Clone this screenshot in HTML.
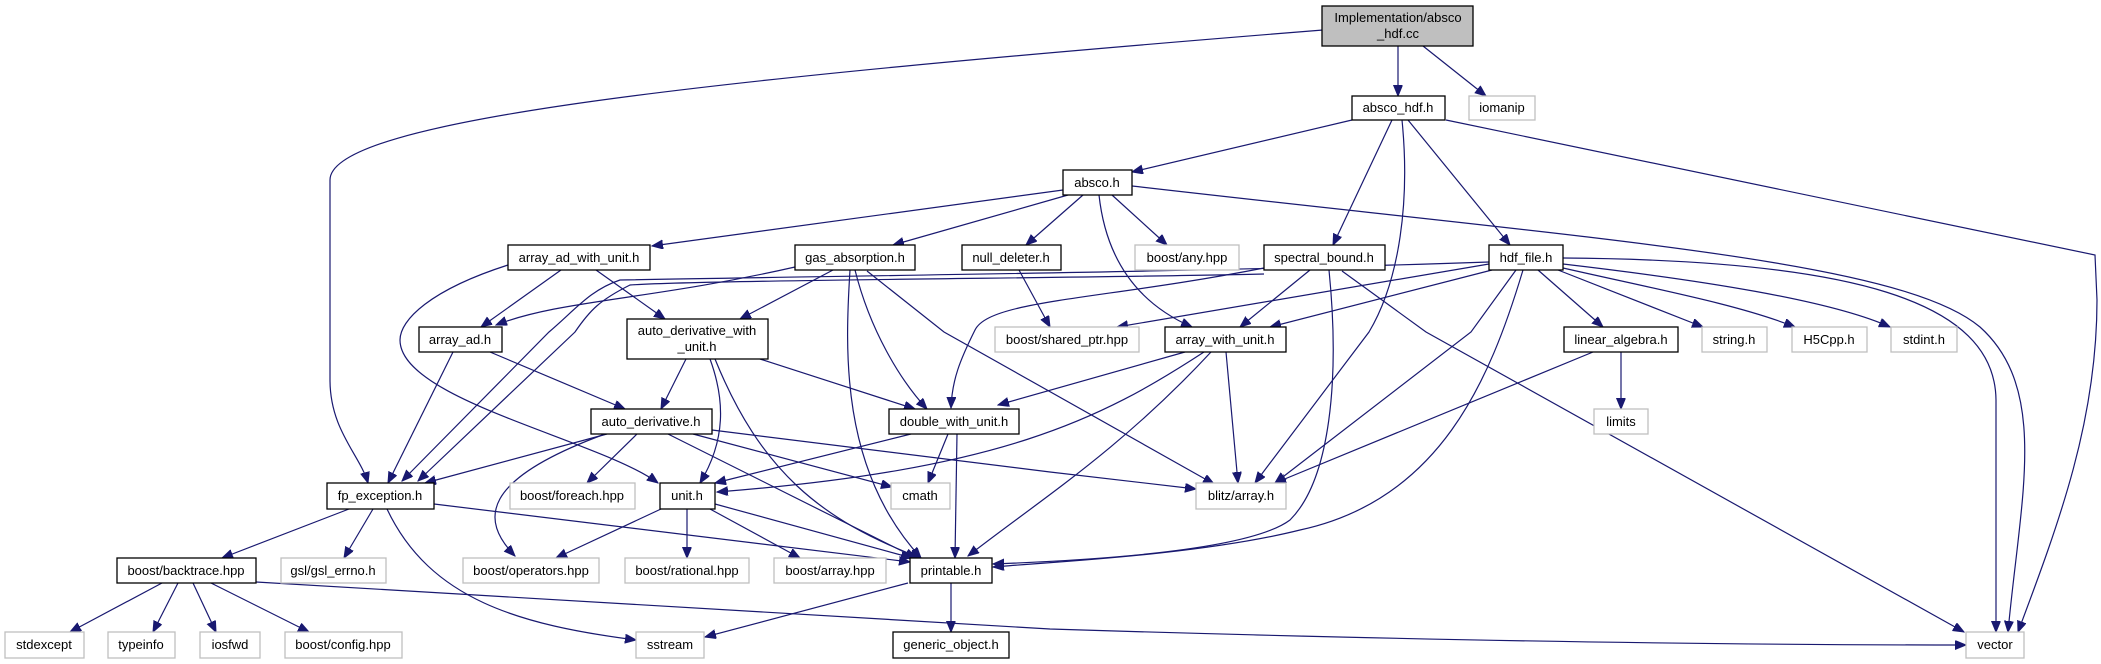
<!DOCTYPE html>
<html><head><meta charset="utf-8"><style>
html,body{margin:0;padding:0;background:#fff;}
svg{display:block;}
text{font-family:"Liberation Sans",Helvetica,sans-serif;font-size:13px;fill:#000;text-anchor:middle;}
.e{fill:none;stroke:#191970;stroke-width:1.2;}
.b{fill:#fff;stroke:#000;stroke-width:1.3;}
.g{fill:#fff;stroke:#bfbfbf;stroke-width:1.3;}
</style></head><body>
<svg width="2101" height="664" viewBox="0 0 2101 664" xmlns="http://www.w3.org/2000/svg">
<defs>
<marker id="a" markerUnits="userSpaceOnUse" markerWidth="12" markerHeight="10" refX="11" refY="4.5" orient="auto">
<path d="M0,0 L11,4.5 L0,9 Z" fill="#191970" stroke="#191970"/>
</marker>
</defs>
<g marker-end="url(#a)">
<path class="e" d="M1398,46 L1398,96"/>
<path class="e" d="M1423,46 L1486,96"/>
<path class="e" d="M1323,30 C700,80 330,120 330,180 L330,380 C330,430 360,455 368,483"/>
<path class="e" d="M1352,120 L1132,172"/>
<path class="e" d="M1392,120 L1333,245"/>
<path class="e" d="M1402,120 C1410,200 1400,280 1369,332 L1255,483"/>
<path class="e" d="M1446,120 L2095,255 L2097,300 C2097,420 2060,520 2018,632"/>
<path class="e" d="M1408,120 L1510,245"/>
<path class="e" d="M1063,190 L652,246"/>
<path class="e" d="M1068,195 L893,245"/>
<path class="e" d="M1083,195 L1026,245"/>
<path class="e" d="M1112,195 L1167,245"/>
<path class="e" d="M1099,195 C1105,250 1130,300 1192,327"/>
<path class="e" d="M1132,186 C1600,240 1900,260 1980,327 C2050,390 2020,500 2008,632"/>
<path class="e" d="M1563,258 C1850,260 1995,300 1996,400 L1996,632"/>
<path class="e" d="M1563,264 C1700,280 1830,300 1890,327"/>
<path class="e" d="M1563,268 C1660,290 1740,305 1795,327"/>
<path class="e" d="M1558,270 L1703,327"/>
<path class="e" d="M1538,270 L1603,327"/>
<path class="e" d="M1489,264 L1117,327"/>
<path class="e" d="M1492,270 L1270,327"/>
<path class="e" d="M1516,270 L1471,332 L1275,483"/>
<path class="e" d="M1523,270 C1490,380 1440,500 1300,530 C1200,555 1050,562 993,567"/>
<path class="e" d="M1489,262 C1200,272 900,275 620,280 C590,290 575,310 549,332 L402,481"/>
<path class="e" d="M1329,270 C1340,380 1330,480 1290,520 C1250,550 1100,560 993,564"/>
<path class="e" d="M1310,270 L1240,327"/>
<path class="e" d="M1264,268 C1100,300 990,300 975,330 C960,360 952,380 951,408"/>
<path class="e" d="M1264,274 C1100,278 700,280 630,285 C600,300 590,310 575,332 L418,481"/>
<path class="e" d="M1342,271 L1426,332 L1964,632"/>
<path class="e" d="M561,270 L481,327"/>
<path class="e" d="M596,270 L665,319"/>
<path class="e" d="M508,265 C430,290 400,320 400,340 C400,400 600,440 658,483"/>
<path class="e" d="M795,267 C650,300 560,300 496,325"/>
<path class="e" d="M833,270 L740,319"/>
<path class="e" d="M855,270 C870,330 900,380 927,409"/>
<path class="e" d="M850,270 C845,350 840,470 921,558"/>
<path class="e" d="M867,271 L944,332 L1214,484"/>
<path class="e" d="M1019,270 L1050,327"/>
<path class="e" d="M686,359 L661,409"/>
<path class="e" d="M710,359 C725,400 726,440 700,483"/>
<path class="e" d="M715,359 C760,470 820,520 921,558"/>
<path class="e" d="M760,359 L915,409"/>
<path class="e" d="M453,352 L388,483"/>
<path class="e" d="M490,352 L625,409"/>
<path class="e" d="M607,434 L425,483"/>
<path class="e" d="M605,434 C480,480 480,520 515,556"/>
<path class="e" d="M637,434 L587,483"/>
<path class="e" d="M668,434 L916,558"/>
<path class="e" d="M693,434 L892,487"/>
<path class="e" d="M712,430 L1050,472 L1196,489"/>
<path class="e" d="M911,434 L715,483"/>
<path class="e" d="M948,434 L928,483"/>
<path class="e" d="M957,434 L955,558"/>
<path class="e" d="M1185,352 L998,405"/>
<path class="e" d="M1204,352 C1100,420 1000,470 717,492"/>
<path class="e" d="M1211,352 C1120,450 1040,500 968,556"/>
<path class="e" d="M1226,352 L1238,483"/>
<path class="e" d="M349,509 L222,558"/>
<path class="e" d="M373,509 L344,558"/>
<path class="e" d="M387,509 C430,600 520,625 636,640"/>
<path class="e" d="M434,504 L910,562"/>
<path class="e" d="M661,509 L556,558"/>
<path class="e" d="M687,509 L687,558"/>
<path class="e" d="M710,509 L800,558"/>
<path class="e" d="M715,504 L912,558"/>
<path class="e" d="M162,583 L70,632"/>
<path class="e" d="M178,583 L153,632"/>
<path class="e" d="M193,583 L216,632"/>
<path class="e" d="M211,583 L309,632"/>
<path class="e" d="M256,582 L1050,629 C1400,640 1700,645 1966,645"/>
<path class="e" d="M908,583 L705,637"/>
<path class="e" d="M951,583 L951,632"/>
<path class="e" d="M1621,352 L1621,409"/>
<path class="e" d="M1593,352 L1275,483"/>
</g>
<rect x="1322" y="6" width="151" height="40" fill="#bfbfbf" stroke="#000" stroke-width="1.3"/>
<text x="1398" y="22">Implementation/absco</text><text x="1398" y="38">_hdf.cc</text>
<rect class="b" x="1352" y="96" width="93" height="24"/><text x="1398" y="112">absco_hdf.h</text>
<rect class="g" x="1469" y="96" width="66" height="24"/><text x="1502" y="112">iomanip</text>
<rect class="b" x="1063" y="170" width="69" height="25"/><text x="1097" y="187">absco.h</text>
<rect class="b" x="508" y="245" width="142" height="25"/><text x="579" y="262">array_ad_with_unit.h</text>
<rect class="b" x="795" y="245" width="120" height="25"/><text x="855" y="262">gas_absorption.h</text>
<rect class="b" x="962" y="245" width="99" height="25"/><text x="1011" y="262">null_deleter.h</text>
<rect class="g" x="1135" y="245" width="104" height="25"/><text x="1187" y="262">boost/any.hpp</text>
<rect class="b" x="1264" y="245" width="121" height="25"/><text x="1324" y="262">spectral_bound.h</text>
<rect class="b" x="1489" y="245" width="74" height="25"/><text x="1526" y="262">hdf_file.h</text>
<rect class="b" x="419" y="327" width="83" height="25"/><text x="460" y="344">array_ad.h</text>
<rect class="b" x="627" y="319" width="141" height="40"/><text x="697" y="335">auto_derivative_with</text><text x="697" y="351">_unit.h</text>
<rect class="g" x="995" y="327" width="144" height="25"/><text x="1067" y="344">boost/shared_ptr.hpp</text>
<rect class="b" x="1165" y="327" width="121" height="25"/><text x="1225" y="344">array_with_unit.h</text>
<rect class="b" x="1564" y="327" width="114" height="25"/><text x="1621" y="344">linear_algebra.h</text>
<rect class="g" x="1702" y="327" width="65" height="25"/><text x="1734" y="344">string.h</text>
<rect class="g" x="1792" y="327" width="75" height="25"/><text x="1829" y="344">H5Cpp.h</text>
<rect class="g" x="1891" y="327" width="66" height="25"/><text x="1924" y="344">stdint.h</text>
<rect class="b" x="591" y="409" width="121" height="25"/><text x="651" y="426">auto_derivative.h</text>
<rect class="b" x="889" y="409" width="130" height="25"/><text x="954" y="426">double_with_unit.h</text>
<rect class="g" x="1594" y="409" width="54" height="25"/><text x="1621" y="426">limits</text>
<rect class="b" x="327" y="483" width="107" height="26"/><text x="380" y="500">fp_exception.h</text>
<rect class="g" x="510" y="483" width="125" height="26"/><text x="572" y="500">boost/foreach.hpp</text>
<rect class="b" x="660" y="483" width="55" height="26"/><text x="687" y="500">unit.h</text>
<rect class="g" x="891" y="483" width="59" height="26"/><text x="920" y="500">cmath</text>
<rect class="g" x="1196" y="483" width="90" height="26"/><text x="1241" y="500">blitz/array.h</text>
<rect class="b" x="117" y="558" width="139" height="25"/><text x="186" y="575">boost/backtrace.hpp</text>
<rect class="g" x="281" y="558" width="105" height="25"/><text x="333" y="575">gsl/gsl_errno.h</text>
<rect class="g" x="463" y="558" width="136" height="25"/><text x="531" y="575">boost/operators.hpp</text>
<rect class="g" x="625" y="558" width="124" height="25"/><text x="687" y="575">boost/rational.hpp</text>
<rect class="g" x="774" y="558" width="112" height="25"/><text x="830" y="575">boost/array.hpp</text>
<rect class="b" x="910" y="558" width="82" height="25"/><text x="951" y="575">printable.h</text>
<rect class="g" x="5" y="632" width="79" height="26"/><text x="44" y="649">stdexcept</text>
<rect class="g" x="108" y="632" width="67" height="26"/><text x="141" y="649">typeinfo</text>
<rect class="g" x="200" y="632" width="60" height="26"/><text x="230" y="649">iosfwd</text>
<rect class="g" x="285" y="632" width="117" height="26"/><text x="343" y="649">boost/config.hpp</text>
<rect class="g" x="636" y="632" width="68" height="26"/><text x="670" y="649">sstream</text>
<rect class="b" x="893" y="632" width="116" height="26"/><text x="951" y="649">generic_object.h</text>
<rect class="g" x="1966" y="632" width="58" height="26"/><text x="1995" y="649">vector</text>
</svg>
</body></html>
